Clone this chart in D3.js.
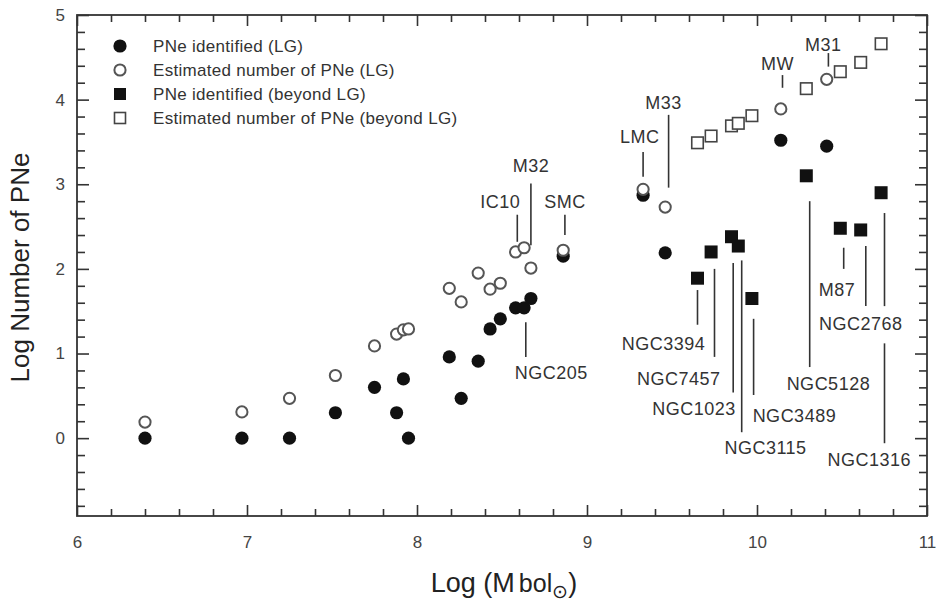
<!DOCTYPE html>
<html>
<head>
<meta charset="utf-8">
<script src="https://cdn.jsdelivr.net/npm/d3@7"></script>
<style>
  html, body { margin: 0; padding: 0; background: #fff; }
  svg { display: block; font-family: "Liberation Sans", Arial, sans-serif; }
</style>
</head>
<body>
<div id="chart"></div>
<script>
/* Log number of PNe vs. log bolometric luminosity, LG and beyond. */

// Local Group galaxies: log Mbol, identified and estimated PNe (log)
var lgMass = [6.40, 6.97, 7.25, 7.52, 7.75, 7.88, 7.92, 7.95, 8.19, 8.26, 8.36,
  8.43, 8.49, 8.58, 8.63, 8.67, 8.86, 9.33, 9.46, 10.14, 10.41];
var lgIdentified = [0, 0, 0, 0.30, 0.60, 0.30, 0.70, 0, 0.96, 0.47, 0.91,
  1.29, 1.41, 1.54, 1.54, 1.65, 2.15, 2.87, 2.19, 3.52, 3.45];
var lgEstimated = [0.19, 0.31, 0.47, 0.74, 1.09, 1.23, 1.28, 1.29, 1.77, 1.61, 1.95,
  1.76, 1.83, 2.20, 2.25, 2.01, 2.22, 2.94, 2.73, 3.89, 4.24];

// galaxies beyond the Local Group
var farMass = [9.65, 9.73, 9.85, 9.89, 9.97, 10.29, 10.49, 10.61, 10.73];
var farIdentified = [1.89, 2.20, 2.38, 2.27, 1.65, 3.10, 2.48, 2.46, 2.90];
var farEstimated = [3.49, 3.57, 3.69, 3.72, 3.81, 4.13, 4.33, 4.44, 4.66];

var xTicks = [6, 7, 8, 9, 10, 11];
var yTicks = [0, 1, 2, 3, 4, 5];

var legendLabels = [
  "PNe identified (LG)",
  "Estimated number of PNe (LG)",
  "PNe identified (beyond LG)",
  "Estimated number of PNe (beyond LG)"
];

// name, text centre, leader line x and its y segments (data units)
var notes = [
  { name: "IC10", tx: 8.49, ty: 2.80, lx: 8.59, segs: [[2.64, 2.32]] },
  { name: "M32", tx: 8.67, ty: 3.22, lx: 8.67, segs: [[3.01, 2.28]] },
  { name: "SMC", tx: 8.87, ty: 2.80, lx: 8.87, segs: [[2.64, 2.40]] },
  { name: "NGC205", tx: 8.79, ty: 0.77, lx: 8.64, segs: [[1.37, 0.96]] },
  { name: "LMC", tx: 9.31, ty: 3.56, lx: 9.33, segs: [[3.38, 3.09]] },
  { name: "M33", tx: 9.45, ty: 3.96, lx: 9.48, segs: [[3.82, 2.96]] },
  { name: "MW", tx: 10.12, ty: 4.43, lx: 10.15, segs: [[4.29, 4.14]] },
  { name: "M31", tx: 10.39, ty: 4.65, lx: 10.42, segs: [[4.55, 4.39]] },
  { name: "NGC3394", tx: 9.45, ty: 1.12, lx: 9.65, segs: [[1.75, 1.34]] },
  { name: "NGC7457", tx: 9.54, ty: 0.70, lx: 9.75, segs: [[2.00, 0.96]] },
  { name: "NGC1023", tx: 9.63, ty: 0.35, lx: 9.86, segs: [[2.07, 0.54]] },
  { name: "NGC3115", tx: 10.05, ty: -0.11, lx: 9.91, segs: [[2.10, 0.07]] },
  { name: "NGC3489", tx: 10.22, ty: 0.27, lx: 9.98, segs: [[1.41, 0.51]] },
  { name: "NGC5128", tx: 10.42, ty: 0.64, lx: 10.31, segs: [[2.80, 0.84]] },
  { name: "M87", tx: 10.47, ty: 1.76, lx: 10.51, segs: [[2.25, 2.00]] },
  { name: "NGC2768", tx: 10.61, ty: 1.35, lx: 10.64, segs: [[2.27, 1.56]] },
  { name: "NGC1316", tx: 10.66, ty: -0.25, lx: 10.75, segs: [[2.66, 1.56], [1.12, -0.06]] }
];

var W = 936, H = 602;
var plotL = 77, plotR = 927, plotT = 15, plotB = 516;
var ink = "#333";

var svg = d3.select("#chart").append("svg")
  .attr("width", W).attr("height", H);

var x = d3.scaleLinear().domain([6, 11]).range([plotL, plotR]);
var y = d3.scaleLinear().domain([-0.92, 5]).range([plotB, plotT]);

var minorX = d3.range(6, 11.001, 0.2).map(function (v) { return +v.toFixed(1); })
  .filter(function (v) { return xTicks.indexOf(v) < 0; });
var minorY = d3.range(-0.8, 5.001, 0.2).map(function (v) { return +v.toFixed(1); })
  .filter(function (v) { return yTicks.indexOf(v) < 0; });

function styleAxis(g) {
  g.select(".domain").remove();
  g.selectAll(".tick line").attr("stroke", ink).attr("stroke-width", 1.6);
  g.selectAll(".tick text").attr("fill", "#444")
    .style("font-size", "17px");
}

// bottom / top
svg.append("g").attr("transform", "translate(0," + plotB + ")")
  .call(d3.axisBottom(x).tickValues(xTicks).tickSize(-11).tickPadding(20).tickFormat(d3.format("d")))
  .call(styleAxis);
svg.append("g").attr("transform", "translate(0," + plotB + ")")
  .call(d3.axisBottom(x).tickValues(minorX).tickSize(-7).tickFormat(""))
  .call(styleAxis);
svg.append("g").attr("transform", "translate(0," + plotT + ")")
  .call(d3.axisTop(x).tickValues(xTicks).tickSize(-11).tickFormat(""))
  .call(styleAxis);
svg.append("g").attr("transform", "translate(0," + plotT + ")")
  .call(d3.axisTop(x).tickValues(minorX).tickSize(-7).tickFormat(""))
  .call(styleAxis);

// left / right
svg.append("g").attr("transform", "translate(" + plotL + ",0)")
  .call(d3.axisLeft(y).tickValues(yTicks).tickSize(-12).tickPadding(12).tickFormat(d3.format("d")))
  .call(styleAxis);
svg.append("g").attr("transform", "translate(" + plotL + ",0)")
  .call(d3.axisLeft(y).tickValues(minorY).tickSize(-8).tickFormat(""))
  .call(styleAxis);
svg.append("g").attr("transform", "translate(" + plotR + ",0)")
  .call(d3.axisRight(y).tickValues(yTicks).tickSize(-12).tickFormat(""))
  .call(styleAxis);
svg.append("g").attr("transform", "translate(" + plotR + ",0)")
  .call(d3.axisRight(y).tickValues(minorY).tickSize(-8).tickFormat(""))
  .call(styleAxis);

svg.append("rect")
  .attr("x", plotL).attr("y", plotT)
  .attr("width", plotR - plotL).attr("height", plotB - plotT)
  .attr("fill", "none").attr("stroke", ink).attr("stroke-width", 1.8);

// axis titles
svg.append("text")
  .attr("transform", "translate(29," + ((plotT + plotB) / 2 + 2) + ") rotate(-90)")
  .attr("text-anchor", "middle")
  .attr("fill", "#222")
  .style("font-size", "26px")
  .text("Log Number of PNe");

var xt = svg.append("text")
  .attr("x", (plotL + plotR) / 2 + 2).attr("y", 592)
  .attr("text-anchor", "middle")
  .attr("fill", "#222")
  .style("font-size", "27px");
xt.append("tspan").text("Log (M");
xt.append("tspan").attr("dx", 4).style("font-size", "25px").text("bol");
xt.append("tspan").attr("dy", 6).style("font-size", "19px").text("⊙");
xt.append("tspan").attr("dy", -6).text(")");

// leader lines and labels
var ann = svg.append("g");
notes.forEach(function (n) {
  n.segs.forEach(function (s) {
    ann.append("line")
      .attr("x1", x(n.lx)).attr("x2", x(n.lx))
      .attr("y1", y(s[0])).attr("y2", y(s[1]))
      .attr("stroke", ink).attr("stroke-width", 1.6);
  });
  ann.append("text")
    .attr("x", x(n.tx)).attr("y", y(n.ty))
    .attr("dy", "0.36em")
    .attr("text-anchor", "middle")
    .attr("fill", ink)
    .style("font-size", "18px")
    .style("letter-spacing", "0.5px")
    .text(n.name);
});

// markers
function circles(xs, ys, filled) {
  svg.append("g").selectAll("circle")
    .data(xs.map(function (v, i) { return [v, ys[i]]; }))
    .join("circle")
    .attr("cx", function (d) { return x(d[0]); })
    .attr("cy", function (d) { return y(d[1]); })
    .attr("r", filled ? 6.6 : 5.6)
    .attr("fill", filled ? "#111" : "#fff")
    .attr("stroke", filled ? "none" : "#555")
    .attr("stroke-width", 2);
}
function squares(xs, ys, filled) {
  var s = filled ? 13 : 11.5;
  svg.append("g").selectAll("rect")
    .data(xs.map(function (v, i) { return [v, ys[i]]; }))
    .join("rect")
    .attr("x", function (d) { return x(d[0]) - s / 2; })
    .attr("y", function (d) { return y(d[1]) - s / 2; })
    .attr("width", s).attr("height", s)
    .attr("fill", filled ? "#111" : "#fff")
    .attr("stroke", filled ? "none" : "#444")
    .attr("stroke-width", 1.6);
}

circles(lgMass, lgIdentified, true);
circles(lgMass, lgEstimated, false);
squares(farMass, farIdentified, true);
squares(farMass, farEstimated, false);

// legend
var lg = svg.append("g");
legendLabels.forEach(function (label, i) {
  var ly = 46 + i * 24, mx = 120;
  if (i === 0 || i === 1) {
    lg.append("circle").attr("cx", mx).attr("cy", ly)
      .attr("r", i === 0 ? 6.6 : 5.6)
      .attr("fill", i === 0 ? "#111" : "#fff")
      .attr("stroke", i === 0 ? "none" : "#555").attr("stroke-width", 2);
  } else {
    var s = i === 2 ? 12 : 11;
    lg.append("rect").attr("x", mx - s / 2).attr("y", ly - s / 2)
      .attr("width", s).attr("height", s)
      .attr("fill", i === 2 ? "#111" : "#fff")
      .attr("stroke", i === 2 ? "none" : "#444").attr("stroke-width", 1.6);
  }
  lg.append("text").attr("x", 153).attr("y", ly).attr("dy", "0.36em")
    .attr("fill", ink).style("font-size", "17px").style("letter-spacing", "0.3px").text(label);
});
</script>
</body>
</html>
